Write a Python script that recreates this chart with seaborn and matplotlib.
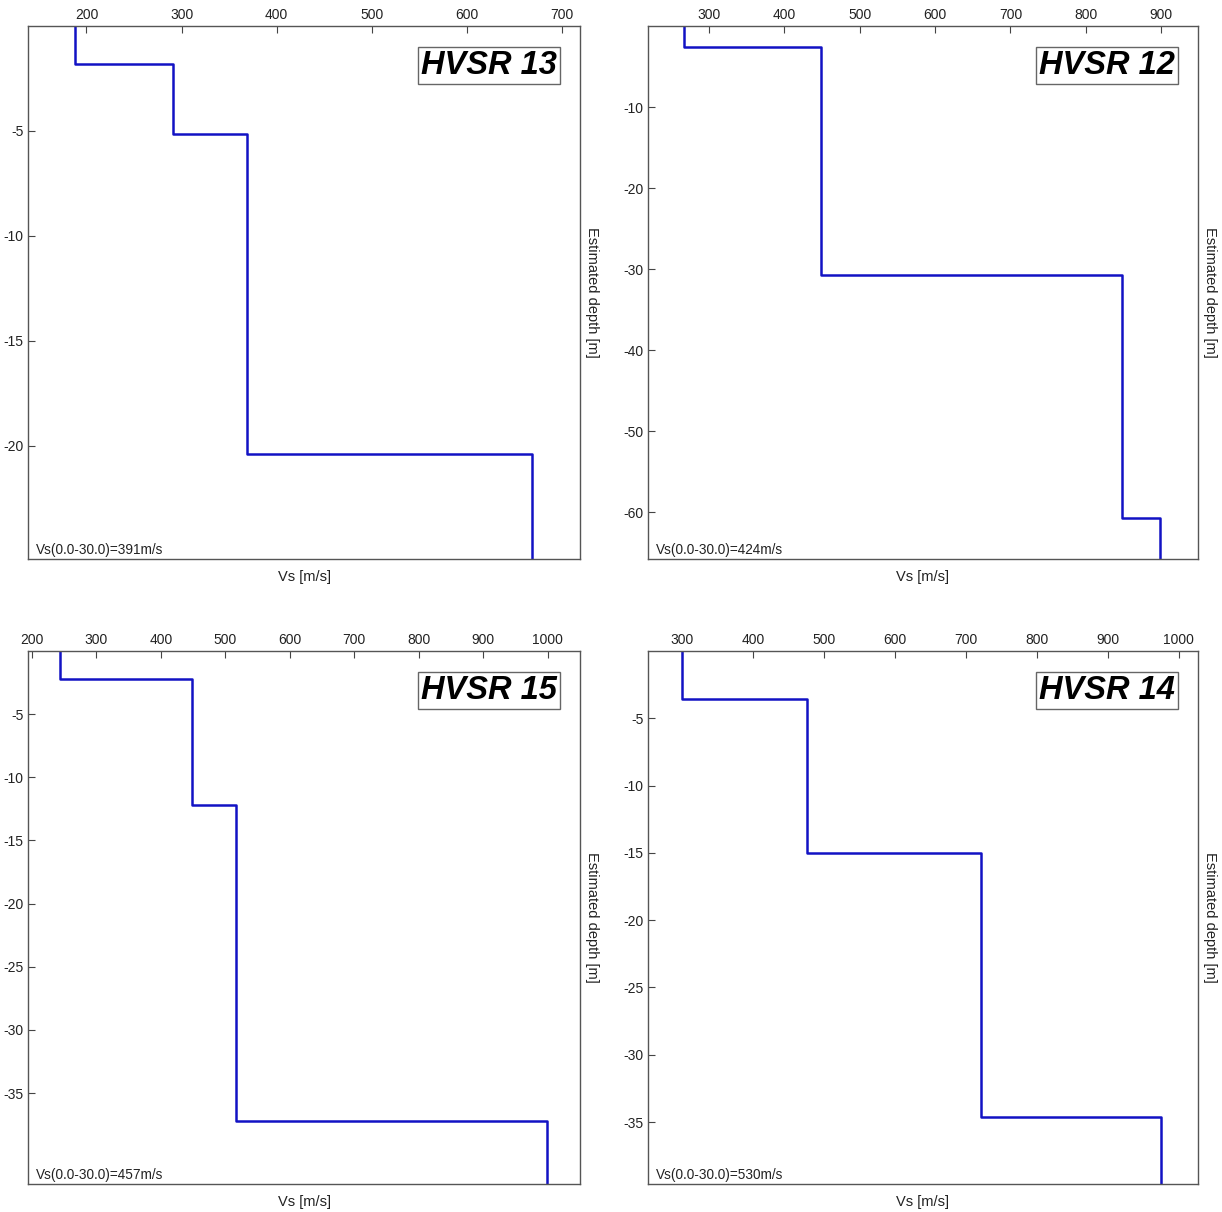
import numpy as np
import pandas as pd
import seaborn as sns
import matplotlib.pyplot as plt

sns.set_theme(style="white")
plt.rcParams.update({
    "font.family": ["Liberation Sans Narrow", "Liberation Sans", "DejaVu Sans"],
    "axes.unicode_minus": False,
    "axes.edgecolor": "#555555",
    "axes.linewidth": 1.0,
})

# Vs profiles (velocity per layer, layer bottoms in m)
names = ["HVSR 13", "HVSR 12", "HVSR 15", "HVSR 14"]
vs13 = [188, 291, 369, 668]
dep13 = [1.8, 5.15, 20.4]
vs12 = [267, 448, 848, 899]
dep12 = [2.6, 30.7, 60.7]
vs15 = [243, 448, 517, 999]
dep15 = [2.2, 12.2, 37.2]
vs14 = [300, 476, 722, 976]
dep14 = [3.56, 15.0, 34.6]
vs30 = [391, 424, 457, 530]

# plotted depth / velocity ranges
max_depth = [25.4, 65.8, 42.2, 39.6]
vs_range = [(138.5, 719), (219, 949), (194, 1050), (251.5, 1027.5)]
xticks = [np.arange(200, 701, 100), np.arange(300, 901, 100),
          np.arange(200, 1001, 100), np.arange(300, 1001, 100)]
yticks = [[-5, -10, -15, -20], [-10, -20, -30, -40, -50, -60],
          [-5, -10, -15, -20, -25, -30, -35], [-5, -10, -15, -20, -25, -30, -35]]

profiles = [(vs13, dep13), (vs12, dep12), (vs15, dep15), (vs14, dep14)]


def step_profile(vs, depths, bottom):
    tops = [0] + list(depths)
    bots = list(depths) + [bottom]
    xs, ys = [], []
    for v, t, b in zip(vs, tops, bots):
        xs += [v, v]
        ys += [-t, -b]
    return pd.DataFrame({"Vs": xs, "depth": ys})


W, H = 1222, 1212
fig = plt.figure(figsize=(W / 100, H / 100), dpi=100)
# pixel boxes of the four frames: left, top, right, bottom
boxes = [(28, 26, 580, 559), (648, 26, 1198, 559),
         (28, 651, 580, 1184), (648, 651, 1198, 1184)]

for i, (l, t, r, b) in enumerate(boxes):
    ax = fig.add_axes([l / W, 1 - b / H, (r - l) / W, (b - t) / H])
    vs, depths = profiles[i]
    df = step_profile(vs, depths, max_depth[i])
    sns.lineplot(data=df, x="Vs", y="depth", sort=False, estimator=None,
                 color="#1212c4", linewidth=1.8, ax=ax)
    ax.set_xlim(*vs_range[i])
    ax.set_ylim(-max_depth[i], 0)
    ax.set_xticks(xticks[i])
    ax.set_yticks(yticks[i])
    ax.xaxis.tick_top()
    ax.tick_params(axis="both", direction="in", length=5, width=0.8,
                   color="#444444", labelsize=10, labelcolor="#222222", pad=3)
    ax.tick_params(axis="x", top=True, bottom=False)
    ax.tick_params(axis="y", left=True, right=False)
    ax.xaxis.set_label_position("bottom")
    ax.set_xlabel("Vs [m/s]", fontsize=10.5, color="#222222", labelpad=8)
    ax.yaxis.set_label_position("right")
    ax.set_ylabel("Estimated depth [m]", fontsize=10.5, color="#222222",
                  rotation=270, labelpad=14)
    ax.text(0.014, 0.004, f"Vs(0.0-30.0)={vs30[i]}m/s", transform=ax.transAxes,
            ha="left", va="bottom", fontsize=9.8, color="#222222")
    ax.text(0.958, 0.955, names[i], transform=ax.transAxes, ha="right", va="top",
            fontsize=23.5, fontweight="bold", fontstyle="italic",
            family=["Liberation Sans", "DejaVu Sans"], color="black",
            bbox=dict(boxstyle="square,pad=0.1", facecolor="white",
                      edgecolor="#666666", linewidth=1.0))

fig.savefig("out.png", dpi=100, facecolor="white")
